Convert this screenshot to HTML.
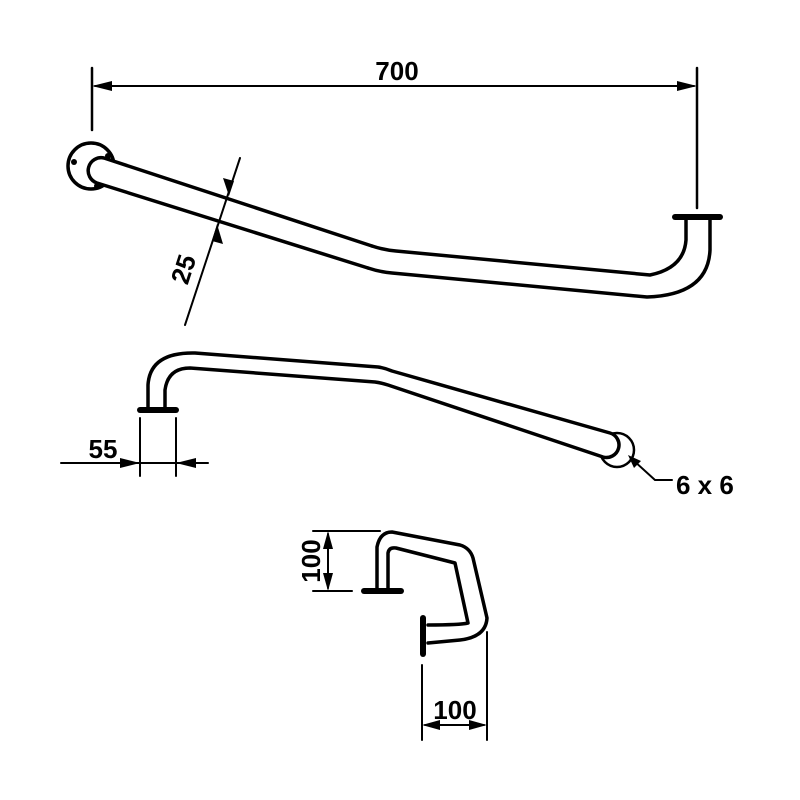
<!DOCTYPE html>
<html><head><meta charset="utf-8"><style>
html,body{margin:0;padding:0;background:#fff;}
svg{display:block;}
text{font-family:"Liberation Sans",sans-serif;font-weight:bold;fill:#000;}
</style></head><body>
<svg width="800" height="800" viewBox="0 0 800 800" xmlns="http://www.w3.org/2000/svg">
<g fill="none" stroke="#000" stroke-width="3.5" stroke-linecap="round" stroke-linejoin="round">
<!-- 700 dim -->
<line x1="92" y1="68" x2="92" y2="130" stroke-width="2.5"/>
<line x1="697" y1="68" x2="697" y2="208" stroke-width="2.5"/>
<line x1="95" y1="86" x2="694" y2="86" stroke-width="2"/>
<!-- top bar -->
<circle cx="91" cy="166" r="23" fill="#fff"/>
<path fill="#fff" stroke="none" d="M104,158 L372,246 Q384,250 396,251 L650,275 Q684,268 686,240 L686,220 L710,220 L710,250 Q708,295 647,297 L392,273 Q380,272 368,268 L97,183 A13,13 0 0 1 104,158Z"/>
<path d="M372,246 L104,158 A13,13 0 0 0 97,183 L368,268"/>
<path d="M372,246 Q384,250 396,251 L650,275 Q684,268 686,240 L686,220"/>
<path d="M368,268 Q380,272 392,273 L647,297 Q708,295 710,250 L710,220"/>
<line x1="675" y1="217" x2="720" y2="217" stroke-width="6"/>
<!-- 25 dim -->
<line x1="240" y1="158" x2="185" y2="325" stroke-width="2"/>
<!-- middle bar -->
<circle cx="617" cy="450" r="17" stroke-width="2.5" fill="#fff"/>
<path fill="#fff" d="M148,409 L148,385 Q150,352 195,353 L378,367 Q385,368 392,371 L610,433 A12.5,12.5 0 0 1 603,457 L388,385 Q382,383 375,382 L190,368 Q168,368 165,390 L165,409"/>
<line x1="140" y1="410" x2="176" y2="410" stroke-width="6"/>
<!-- 55 dim -->
<line x1="140" y1="418" x2="140" y2="476" stroke-width="2"/>
<line x1="176" y1="418" x2="176" y2="476" stroke-width="2"/>
<line x1="61" y1="463" x2="208" y2="463" stroke-width="2"/>
<!-- 6x6 leader -->
<polyline points="633,460 655,480 672,480" stroke-width="2"/>
<!-- bottom piece -->
<path d="M377,590 L377,547 Q380,532 392,532 L460,545 Q470,548 473,558 L487,618 Q486,637 460,640 L428,643"/>
<path d="M388,590 L388,553 Q389,547 396,548 L455,563 L468,623 Q460,625 428,625"/>
<line x1="364" y1="591" x2="401" y2="591" stroke-width="6"/>
<line x1="423" y1="618" x2="423" y2="654" stroke-width="6"/>
<!-- left 100 dim -->
<line x1="313" y1="531" x2="380" y2="531" stroke-width="2"/>
<line x1="313" y1="591" x2="352" y2="591" stroke-width="2"/>
<line x1="328" y1="534" x2="328" y2="588" stroke-width="2"/>
<!-- bottom 100 dim -->
<line x1="422" y1="665" x2="422" y2="740" stroke-width="2"/>
<line x1="487" y1="632" x2="487" y2="740" stroke-width="2"/>
<line x1="425" y1="725" x2="484" y2="725" stroke-width="2"/>
</g>
<g fill="#000" stroke="none">
<polygon points="92,86 112,81 112,91"/>
<polygon points="697,86 677,81 677,91"/>
<polygon points="229,196 223,178 234,181"/>
<polygon points="217,224 212,241 223,244"/>
<polygon points="140,463 120,458 120,468"/>
<polygon points="176,463 196,458 196,468"/>
<polygon points="628,455 641,461 634,468"/>
<polygon points="328,531 323,549 333,549"/>
<polygon points="328,591 323,573 333,573"/>
<polygon points="422,725 440,720 440,730"/>
<polygon points="487,725 469,720 469,730"/>
<circle cx="74" cy="162" r="3"/><circle cx="108" cy="156" r="3"/><circle cx="97" cy="186" r="3"/>
</g>
<text x="397" y="80" font-size="26" text-anchor="middle">700</text>
<text transform="translate(192,272) rotate(-72)" font-size="26" text-anchor="middle">25</text>
<text x="103" y="458" font-size="26" text-anchor="middle">55</text>
<text x="676" y="494" font-size="26">6 x 6</text>
<text transform="translate(320,561) rotate(-90)" font-size="26" text-anchor="middle">100</text>
<text x="455" y="719" font-size="26" text-anchor="middle">100</text>
</svg>
</body></html>
